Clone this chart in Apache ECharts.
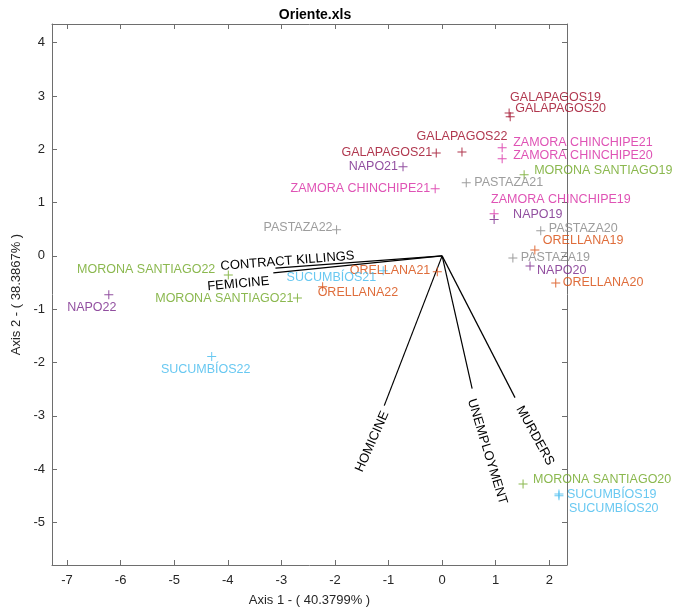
<!DOCTYPE html>
<html><head><meta charset="utf-8">
<script src="https://cdn.jsdelivr.net/npm/echarts@6/dist/echarts.min.js"></script>
<style>html,body{margin:0;padding:0;background:#fff}#c{width:686px;height:609px}</style>
</head><body><div id="c"></div>
<script>
// ---- data ----
const pointNames = [
  'GALAPAGOS19','GALAPAGOS20','GALAPAGOS21','GALAPAGOS22',
  'ZAMORA CHINCHIPE21','ZAMORA CHINCHIPE20','MORONA SANTIAGO19','PASTAZA21',
  'NAPO21','ZAMORA CHINCHIPE21 ','ZAMORA CHINCHIPE19','NAPO19',
  'PASTAZA20','ORELLANA19','PASTAZA19','NAPO20','ORELLANA20',
  'ORELLANA21','SUCUMBÍOS21','ORELLANA22','PASTAZA22',
  'MORONA SANTIAGO22','MORONA SANTIAGO21','NAPO22','SUCUMBÍOS22',
  'MORONA SANTIAGO20','SUCUMBÍOS19','SUCUMBÍOS20'
];
const axis1Values = [
  1.25, 1.27, -0.11, 0.37,
  1.12, 1.12, 1.53, 0.45,
  -0.73, -0.13, 0.97, 0.97,
  1.84, 1.73, 1.32, 1.64, 2.12,
  -0.09, -1.10, -2.23, -1.97,
  -3.99, -2.70, -6.22, -4.30,
  1.51, 2.18, 2.18
];
const axis2Values = [
  2.68, 2.61, 1.93, 1.95,
  2.03, 1.82, 1.52, 1.37,
  1.67, 1.26, 0.79, 0.68,
  0.47, 0.11, -0.04, -0.19, -0.51,
  -0.30, -0.28, -0.58, 0.49,
  -0.36, -0.79, -0.73, -1.89,
  -4.28, -4.47, -4.50
];
const variableNames = ['CONTRACT KILLINGS','FEMICINE','HOMICINE','UNEMPLOYMENT','MURDERS'];
const variableAxis1 = [-3.11, -3.15, -1.08, 0.56, 1.36];
const variableAxis2 = [-0.23, -0.32, -2.81, -2.49, -2.66];
const xTickValues = [-7,-6,-5,-4,-3,-2,-1,0,1,2];
const yTickValues = [-5,-4,-3,-2,-1,0,1,2,3,4];
const titleText = 'Oriente.xls';
const xAxisTitle = 'Axis 1 - ( 40.3799% )';
const yAxisTitle = 'Axis 2 - ( 38.3867% )';

// ---- styles ----
const provinceColors = {
  'GALAPAGOS':'#A2142F','ZAMORA':'#D935A8','MORONA':'#77AC30','PASTAZA':'#8C8C8C',
  'NAPO':'#7E2F8E','ORELLANA':'#D95319','SUCUMB':'#4DBEEE'
};
function colorOf(n){ for (const k in provinceColors) if (n.startsWith(k)) return provinceColors[k]; return '#000'; }
// label placement: [align, dx, dy] in pixels relative to marker centre
const labelPlace = [
  ['left',1,-15],['left',5,-8],['right',-4,0],['center',0,-15],
  ['left',11,-5],['left',11,-3],['left',10,-4],['left',8,0],
  ['right',-5,0],['right',-5,0],['left',-3,-14],['left',19,-5],
  ['left',8,-2],['left',8,-9],['left',8,0],['left',7,5],['left',7,0],
  ['right',-7,-1],['right',-7,7],['left',-5,6],['right',-4,-2],
  ['right',-13,-5],['right',-4,1],['center',-17,13],['center',-6,13],
  ['left',10,-4],['left',8,0],['left',10,13]
];
// vector label placement: [dx, dy, rotationDeg] relative to tip (pixels)
const varLabelPlace = [[12,-7,4.5],[-35,11,5],[-12,36,66],[15,63,-73],[20,38,-61]];

const FONT = 'Liberation Sans, Arial, Helvetica, sans-serif';
const axisColor = '#6e6e6e';
const textColor = '#262626';
const xMin = -7.28, xMax = 2.33, yMin = -5.8, yMax = 4.35;
const plus = 'path://M4,0H5V9H4Z M0,4H9V5H0Z';

const chart = echarts.init(document.getElementById('c'), null, {renderer:'canvas'});

function mkX(pos, showLabel){
  return {type:'value', position:pos, min:xMin, max:xMax,
    axisLine:{show:true,onZero:false,lineStyle:{color:axisColor,width:1}},
    axisTick:{show:true,inside:true,length:5,customValues:xTickValues,lineStyle:{color:axisColor}},
    axisLabel:{show:showLabel,customValues:xTickValues,margin:9,color:textColor,fontSize:13,fontFamily:FONT},
    splitLine:{show:false},
    name: showLabel ? xAxisTitle : '', nameLocation:'middle', nameGap:29,
    nameTextStyle:{color:textColor,fontSize:13,fontFamily:FONT}};
}
function mkY(pos, showLabel){
  return {type:'value', position:pos, min:yMin, max:yMax,
    axisLine:{show:true,onZero:false,lineStyle:{color:axisColor,width:1}},
    axisTick:{show:true,inside:true,length:5,customValues:yTickValues,lineStyle:{color:axisColor}},
    axisLabel:{show:showLabel,customValues:yTickValues,margin:7,color:textColor,fontSize:13,fontFamily:FONT},
    splitLine:{show:false},
    name: showLabel ? yAxisTitle : '', nameLocation:'middle', nameGap:25,
    nameTextStyle:{color:textColor,fontSize:13,fontFamily:FONT}};
}

const pointData = pointNames.map((n,i)=>{
  const p = labelPlace[i];
  return {
    value:[axis1Values[i], axis2Values[i]], name:n.trim(),
    itemStyle:{color:colorOf(n), opacity:0.85},
    label:{show:true, formatter:n.trim(), position:[4.5+p[1], 4.5+p[2]], align:p[0], verticalAlign:'middle',
      color:colorOf(n), fontSize:12.5, fontFamily:FONT}
  };
});

const series = [];
variableNames.forEach((v,i)=>{
  series.push({type:'line', data:[[0,0],[variableAxis1[i], variableAxis2[i]]], showSymbol:false, symbol:'none',
    lineStyle:{color:'#000', width:1.2}, silent:true, animation:false, z:3});
});
series.push({type:'scatter', data:pointData, symbol:plus, symbolSize:9, animation:false, z:4});

chart.setOption({
  animation:false,
  title:{text:titleText, left:310, top:3, textAlign:'center',
    textStyle:{fontSize:14, fontWeight:'bold', color:'#000', fontFamily:FONT}},
  grid:{left:52, right:119, top:24, bottom:44, containLabel:false, outerBoundsMode:'none'},
  xAxis:[mkX('bottom',true), mkX('top',false)],
  yAxis:[mkY('left',true), mkY('right',false)],
  series:series
});

const graphics = variableNames.map((v,i)=>{
  const tip = chart.convertToPixel({gridIndex:0}, [variableAxis1[i], variableAxis2[i]]);
  const pl = varLabelPlace[i];
  return {type:'text', x:tip[0]+pl[0], y:tip[1]+pl[1], rotation:pl[2]*Math.PI/180, z:10,
    style:{text:v, fill:'#000', fontSize:13, fontFamily:FONT, align:'center', verticalAlign:'middle'}};
});
chart.setOption({graphic:graphics});
</script>
</body></html>
